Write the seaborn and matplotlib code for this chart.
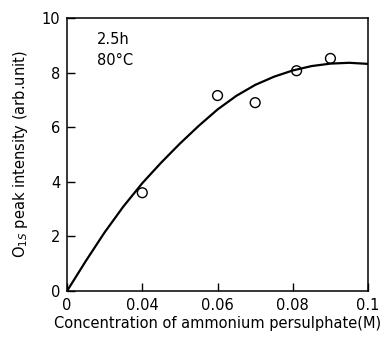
import numpy as np
import seaborn as sns
import matplotlib.pyplot as plt

# Data
conc = [0.04, 0.06, 0.07, 0.081, 0.09]
intensity = [3.6, 7.16, 6.9, 8.07, 8.52]

# fitted curve
curve_x = [0, 0.01, 0.02, 0.03, 0.04, 0.045, 0.05, 0.055, 0.06, 0.065,
           0.07, 0.075, 0.08, 0.085, 0.09, 0.095, 0.1]
curve_y = [0, 1.1, 2.15, 3.1, 3.95, 4.7, 5.4, 6.05, 6.65, 7.15,
           7.55, 7.85, 8.08, 8.24, 8.33, 8.36, 8.32]

xticks = [0, 0.04, 0.06, 0.08, 0.1]
xticklabels = ['0', '0.04', '0.06', '0.08', '0.1']
yticks = [0, 2, 4, 6, 8, 10]

sns.set_style('ticks')
plt.rcParams['font.family'] = ['DejaVu Sans']
plt.rcParams.update({'text.color': 'black', 'axes.labelcolor': 'black',
                     'xtick.color': 'black', 'ytick.color': 'black',
                     'axes.edgecolor': 'black'})


# x axis in the original is not linear: 0 -> 0.04 takes the same room as 0.04 -> 0.06
def fwd(x):
    x = np.asarray(x, dtype=float)
    return np.where(x <= 0.04, x / 0.04, 1 + (x - 0.04) / 0.02)


def inv(p):
    p = np.asarray(p, dtype=float)
    return np.where(p <= 1, p * 0.04, 0.04 + (p - 1) * 0.02)


fig = plt.figure(figsize=(3.83, 3.37), dpi=100)
ax = fig.add_axes([0.175, 0.1365, 0.786, 0.81])
ax.set_xscale('function', functions=(fwd, inv))

sns.lineplot(x=curve_x, y=curve_y, color='black', linewidth=1.6, ax=ax)
sns.scatterplot(x=conc, y=intensity, marker='o', s=50, facecolor='none',
                edgecolor='black', linewidth=1.0, ax=ax, zorder=3)

ax.set_xlim(0, 0.1)
ax.set_ylim(0, 10)
ax.set_xticks(xticks)
ax.set_xticklabels(xticklabels)
ax.set_yticks(yticks)
ax.minorticks_off()
ax.tick_params(direction='in', length=6, width=1, labelsize=10.5, pad=5)
for s in ax.spines.values():
    s.set_linewidth(1.1)

ax.set_xlabel('Concentration of ammonium persulphate(M)', fontsize=10.5, labelpad=2)
ax.set_ylabel('O$_{1S}$ peak intensity (arb.unit)', fontsize=10.5, labelpad=8)
ax.text(0.1, 0.95, '2.5h\n80°C', transform=ax.transAxes, ha='left', va='top',
        fontsize=10.5, linespacing=1.5)

fig.savefig('out.png', dpi=100)
